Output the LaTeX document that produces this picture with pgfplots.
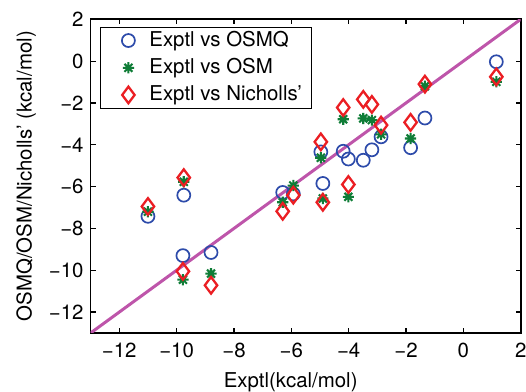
\documentclass[border=0pt]{standalone}
\usepackage{fontspec}
\setmainfont{TeX Gyre Heros}
\usepackage{pgfplots}
\pgfplotsset{compat=1.18}
\usetikzlibrary{plotmarks}
\definecolor{cblue}{RGB}{45,75,170}
\definecolor{cgreen}{RGB}{15,125,55}
\definecolor{cred}{RGB}{235,30,35}
\definecolor{cmag}{RGB}{190,85,170}
\pgfdeclareplotmark{ast8}{%
 \pgfpathmoveto{\pgfqpoint{0pt}{\pgfplotmarksize}}\pgfpathlineto{\pgfqpoint{0pt}{-\pgfplotmarksize}}%
 \pgfpathmoveto{\pgfqpoint{\pgfplotmarksize}{0pt}}\pgfpathlineto{\pgfqpoint{-\pgfplotmarksize}{0pt}}%
 \pgfpathmoveto{\pgfqpoint{.707\pgfplotmarksize}{.707\pgfplotmarksize}}\pgfpathlineto{\pgfqpoint{-.707\pgfplotmarksize}{-.707\pgfplotmarksize}}%
 \pgfpathmoveto{\pgfqpoint{.707\pgfplotmarksize}{-.707\pgfplotmarksize}}\pgfpathlineto{\pgfqpoint{-.707\pgfplotmarksize}{.707\pgfplotmarksize}}%
 \pgfusepathqstroke}
\begin{document}
\fontsize{20.5}{24}\selectfont
\begin{tikzpicture}
\begin{axis}[name=ax, scale only axis, width=430.1bp, height=313.7bp,
 xmin=-13, xmax=2, ymin=-13, ymax=2,
 xtick={-12,-10,-8,-6,-4,-2,0,2}, ytick={-12,-10,-8,-6,-4,-2,0,2},
 xticklabels={−12,−10,−8,−6,−4,−2,0,2},
 yticklabels={−12,−10,−8,−6,−4,−2,0,2},
 tick align=inside, major tick length=5bp,
 tick style={line width=1.2bp, black},
 axis line style={line width=1.6bp},
 xticklabel style={yshift=-3bp},
 xlabel={Exptl(kcal/mol)}, ylabel={OSMQ/OSM/Nicholls' (kcal/mol)},
 every axis x label/.style={at={(rel axis cs:0.5,0)}, anchor=base, yshift=-54.3bp, xshift=-15bp},
 every axis y label/.style={at={(rel axis cs:0,0.5)}, rotate=90, anchor=base, yshift=58.9bp},
 legend style={at={(0.0219,0.9755)}, anchor=north west, draw=black, line width=0.8bp,
   cells={anchor=west}, row sep=5bp, inner xsep=8bp},
 legend image code/.code={\path[draw=none,fill=none] (0bp,-1bp) rectangle (39bp,1bp);
   \draw[only marks,mark repeat=2,mark phase=2,#1] plot coordinates {(0bp,0bp)(20bp,0bp)(39bp,0bp)};},
]
\addplot[only marks, mark=o, mark size=6.5bp, mark options={draw=cblue, line width=1.7bp}] coordinates {
(-11.0,-7.42) (-9.75,-6.41) (-9.78,-9.3) (-8.8,-9.15) (-6.3,-6.28) (-5.93,-6.35) (-4.97,-4.34) (-4.9,-5.85) (-4.19,-4.31) (-4.01,-4.68) (-3.49,-4.74) (-3.19,-4.24) (-2.87,-3.62) (-1.84,-4.14) (-1.34,-2.72) (1.15,-0.03)};
\addlegendentry{Exptl vs OSMQ}
\addplot[only marks, mark=ast8, mark size=5.6bp, mark options={draw=cgreen, line width=2.1bp}] coordinates {
(-11.0,-7.2) (-9.75,-5.77) (-9.78,-10.45) (-8.8,-10.16) (-6.3,-6.75) (-5.93,-5.95) (-4.97,-4.62) (-4.9,-6.57) (-4.19,-2.78) (-4.01,-6.49) (-3.49,-2.74) (-3.19,-2.82) (-2.87,-3.5) (-1.84,-3.70) (-1.34,-1.2) (1.15,-0.99)};
\addlegendentry{Exptl vs OSM}
\addplot[only marks, mark=diamond, mark size=8.3bp, mark options={draw=cred, line width=2.3bp}] coordinates {
(-11.0,-6.95) (-9.75,-5.57) (-9.78,-10.05) (-8.8,-10.72) (-6.3,-7.18) (-5.93,-6.41) (-4.97,-3.86) (-4.9,-6.75) (-4.19,-2.22) (-4.01,-5.9) (-3.49,-1.83) (-3.19,-2.07) (-2.87,-3.06) (-1.84,-2.93) (-1.34,-1.1) (1.15,-0.75)};
\addlegendentry{Exptl vs Nicholls'}
\addplot[forget plot, no markers, color=cmag, line width=3bp] coordinates {(-13,-13) (2,2)};
\end{axis}
\path (ax.south west) ++(-90.6bp,-59bp) coordinate (bbA);
\path (ax.north east) ++(5.3bp,19.3bp) coordinate (bbB);
\pgfresetboundingbox
\path[use as bounding box] (bbA) rectangle (bbB);
\end{tikzpicture}
\end{document}
